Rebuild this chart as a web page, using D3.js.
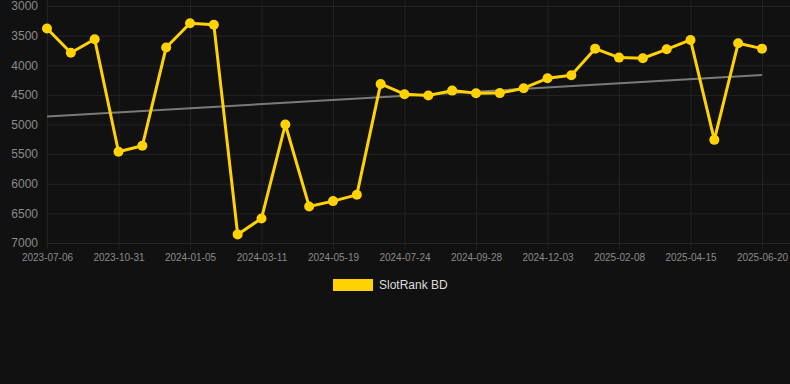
<!DOCTYPE html>
<html>
<head>
<meta charset="utf-8">
<script src="https://cdn.jsdelivr.net/npm/d3@7"></script>
<style>
  body { margin: 0; background: #111111; }
  svg { display: block; font-family: "Liberation Sans", Arial, sans-serif; }
  .grid line { stroke: #232323; stroke-width: 1; }
  .grid path { display: none; }
  .axis text { fill: #8a8a8a; }
  .axis path, .axis line { display: none; }
</style>
</head>
<body>
<div id="chart"></div>
<script>

// categories (dates), one per point
var dates = ["2023-07-06", "2023-08-14", "2023-09-22", "2023-10-31", "2023-11-22", "2023-12-14",
             "2024-01-05", "2024-01-27", "2024-02-18", "2024-03-11", "2024-04-03", "2024-04-26",
             "2024-05-19", "2024-06-10", "2024-07-02", "2024-07-24", "2024-08-15", "2024-09-06",
             "2024-09-28", "2024-10-20", "2024-11-11", "2024-12-03", "2024-12-25", "2025-01-17",
             "2025-02-08", "2025-03-02", "2025-03-24", "2025-04-15", "2025-05-07", "2025-05-29",
             "2025-06-20"];

// rank values of the series
var ranks = [3380, 3790, 3560, 5460, 5360, 3700, 3290, 3315, 6855, 6585, 5000, 6383,
             6293, 6187, 4315, 4489, 4512, 4428, 4473, 4470, 4388, 4220, 4169, 3720,
             3871, 3882, 3731, 3573, 5259, 3629, 3720];

// tick labels
var y_ticks = [3000, 3500, 4000, 4500, 5000, 5500, 6000, 6500, 7000];
var x_ticks = ["2023-07-06", "2023-10-31", "2024-01-05", "2024-03-11", "2024-05-19", "2024-07-24",
               "2024-09-28", "2024-12-03", "2025-02-08", "2025-04-15", "2025-06-20"];

var series_name = "SlotRank BD";

window.onload = function () {
  draw_chart();
};

function draw_chart() {

  var width = 790;
  var height = 384;
  var margin = {top: 6, right: 28, bottom: 141, left: 47};
  var plot_width = width - margin.left - margin.right;
  var plot_height = height - margin.top - margin.bottom;

  var svg = d3.select("#chart")
              .append("svg")
                .attr("width", width)
                .attr("height", height);

  var g = svg.append("g")
             .attr("transform", "translate(" + margin.left + "," + margin.top + ")");

  // x scale, evenly spaced categories
  var x_scale = d3.scalePoint()
                  .domain(dates)
                  .range([0, plot_width]);

  // y scale, rank so lower is better (3000 at top)
  var y_scale = d3.scaleLinear()
                  .domain([3000, 7000])
                  .range([0, plot_height]);

  // horizontal grid lines
  g.append("g")
    .attr("class", "grid")
    .call(d3.axisLeft(y_scale)
        .tickValues(y_ticks)
        .tickSize(-(plot_width + margin.right))
        .tickFormat(""))
    .selectAll("line")
      .attr("x1", 0)
      .attr("x2", plot_width + margin.right);

  // vertical grid lines
  g.append("g")
    .attr("class", "grid")
    .attr("transform", "translate(0," + (plot_height + 6) + ")")
    .call(d3.axisBottom(x_scale)
        .tickValues(x_ticks)
        .tickSize(-(plot_height + 6 + margin.top))
        .tickFormat(""));

  // y axis labels
  g.append("g")
    .attr("class", "axis")
    .call(d3.axisLeft(y_scale).tickValues(y_ticks).tickFormat(d3.format("d")).tickSize(0).tickPadding(9))
    .selectAll("text")
      .style("font-size", "12px");

  // x axis labels
  g.append("g")
    .attr("class", "axis")
    .attr("transform", "translate(0," + plot_height + ")")
    .call(d3.axisBottom(x_scale).tickValues(x_ticks).tickSize(0).tickPadding(11))
    .selectAll("text")
      .style("font-size", "10px");

  // linear trend line (least squares over the points)
  var n = ranks.length;
  var mean_i = d3.mean(ranks, function(d, i) { return i; });
  var mean_v = d3.mean(ranks);
  var num = d3.sum(ranks, function(d, i) { return (i - mean_i) * (d - mean_v); });
  var den = d3.sum(ranks, function(d, i) { return (i - mean_i) * (i - mean_i); });
  var slope = num / den;
  var intercept = mean_v - slope * mean_i;

  g.append("line")
    .attr("x1", x_scale(dates[0]))
    .attr("y1", y_scale(intercept))
    .attr("x2", x_scale(dates[n - 1]))
    .attr("y2", y_scale(intercept + slope * (n - 1)))
    .attr("stroke", "#7a7a7a")
    .attr("stroke-width", 2);

  // series line
  var line = d3.line()
               .x(function(d, i) { return x_scale(dates[i]); })
               .y(function(d) { return y_scale(d); });

  g.append("path")
    .datum(ranks)
    .attr("d", line)
    .attr("fill", "none")
    .attr("stroke", "#ffd200")
    .attr("stroke-width", 3)
    .attr("stroke-linejoin", "round");

  // points
  g.selectAll("circle")
    .data(ranks)
    .enter()
    .append("circle")
      .attr("cx", function(d, i) { return x_scale(dates[i]); })
      .attr("cy", function(d) { return y_scale(d); })
      .attr("r", 5)
      .attr("fill", "#ffd200");

  // legend
  var legend = svg.append("g")
                  .attr("transform", "translate(333,279)");

  legend.append("rect")
    .attr("width", 40)
    .attr("height", 12)
    .attr("fill", "#ffd200");

  legend.append("text")
    .attr("x", 46)
    .attr("y", 10)
    .attr("fill", "#dddddd")
    .style("font-size", "12px")
    .text(series_name);
}
</script>
</body>
</html>
